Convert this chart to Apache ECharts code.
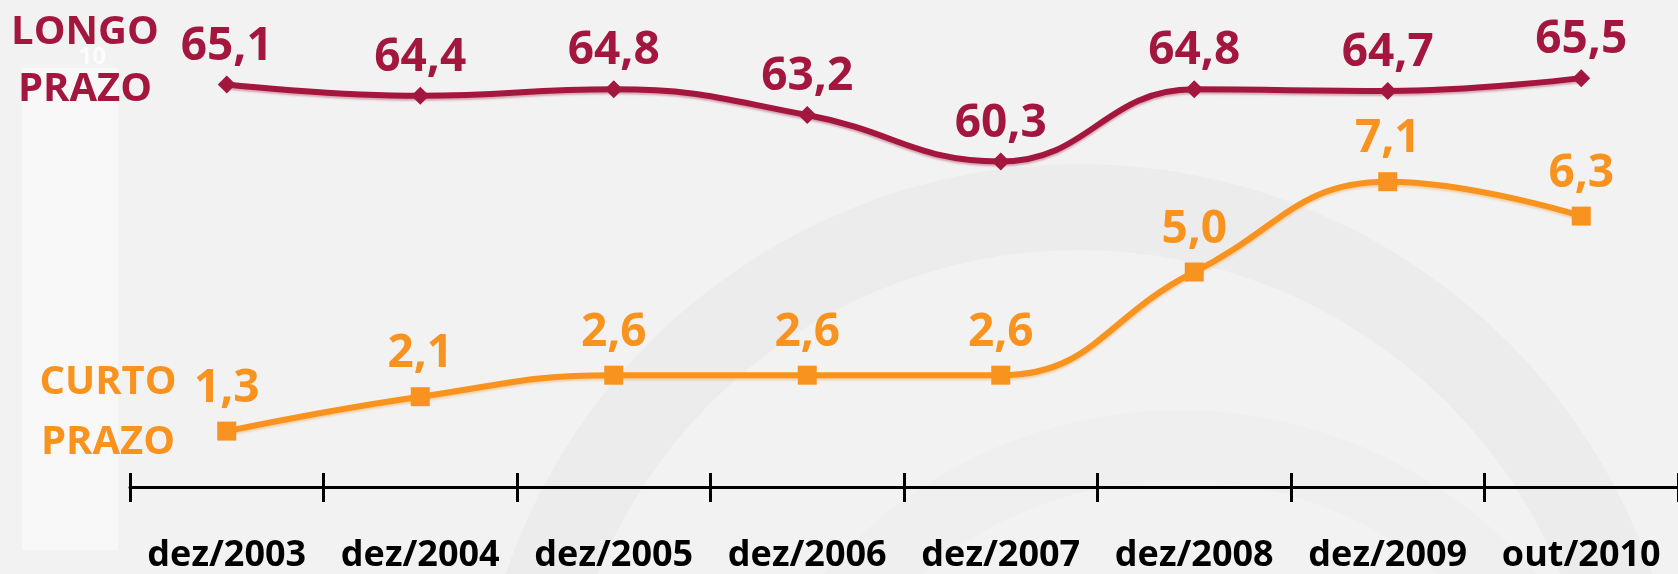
<!DOCTYPE html>
<html>
<head>
<meta charset="utf-8">
<script src="https://cdn.jsdelivr.net/npm/echarts@6/dist/echarts.min.js"></script>
<style>
  html, body { margin: 0; padding: 0; background: #f1f1f1; }
  #chart { width: 1678px; height: 574px; }
</style>
</head>
<body>
<div id="chart"></div>
<script>
  var categories = ['dez/2003', 'dez/2004', 'dez/2005', 'dez/2006', 'dez/2007', 'dez/2008', 'dez/2009', 'out/2010'];
  var longoPrazo = [65.1, 64.4, 64.8, 63.2, 60.3, 64.8, 64.7, 65.5];
  var curtoPrazo = [1.3, 2.1, 2.6, 2.6, 2.6, 5.0, 7.1, 6.3];

  var longoColor = '#a3173e';
  var curtoColor = '#f7931e';
  var font = "'Open Sans', 'DejaVu Sans', sans-serif";

  function comma(p) {
    return p.value.toFixed(1).replace('.', ',');
  }

  var myChart = echarts.init(document.getElementById('chart'));

  myChart.setOption({
    backgroundColor: '#f2f2f2',
    animation: false,
    grid: { left: 130, top: 14, width: 1556, height: 473 },
    graphic: [
      // faint watermark arcs in the background
      { type: 'ring', z: -20, silent: true, shape: { cx: 1079, cy: 770, r: 606, r0: 520 }, style: { fill: '#ececec' } },
      { type: 'ring', z: -20, silent: true, shape: { cx: 1180, cy: 880, r: 470, r0: 400 }, style: { fill: '#efefef' } },
      // lighter panel behind the left labels
      { type: 'rect', z: -10, shape: { x: 22, y: 68, width: 96, height: 482 }, style: { fill: '#f8f8f8' } },
      {
        type: 'text', x: 85, y: 4,
        style: { text: 'LONGO\nPRAZO', fill: longoColor, font: 'bold 40px ' + font, align: 'center', verticalAlign: 'top', lineHeight: 57 }
      },
      {
        type: 'text', x: 108, y: 353,
        style: { text: 'CURTO\nPRAZO', fill: curtoColor, font: 'bold 40px ' + font, align: 'center', verticalAlign: 'top', lineHeight: 60 }
      }
    ],
    xAxis: [{
      type: 'category',
      data: categories,
      axisLine: { show: true, lineStyle: { color: '#000', width: 3 } },
      axisTick: { show: true, interval: 0, length: 15, lineStyle: { color: '#000', width: 3 } },
      axisLabel: { interval: 0, color: '#000', fontFamily: font, fontWeight: 'bold', fontSize: 36, margin: 51 }
    }, {
      type: 'category',
      data: categories,
      position: 'bottom',
      axisLine: { show: false },
      axisTick: { show: true, interval: 0, inside: true, length: 14, lineStyle: { color: '#000', width: 3 } },
      axisLabel: { show: false }
    }],
    yAxis: [{
      type: 'value',
      min: 0, max: 11, interval: 10,
      splitLine: { show: false },
      axisLine: { show: false },
      axisTick: { show: false },
      axisLabel: { showMinLabel: false, showMaxLabel: false, color: '#fcfcfc', fontFamily: font, fontWeight: 'bold', fontSize: 24, margin: 24 }
    }, {
      type: 'value',
      min: 40, max: 69.5,
      position: 'right',
      show: false,
      splitLine: { show: false }
    }],
    series: [{
      name: 'LONGO PRAZO',
      type: 'line',
      yAxisIndex: 1,
      data: longoPrazo,
      smooth: 0.45,
      clip: false,
      symbol: 'diamond',
      symbolSize: 18,
      lineStyle: { color: longoColor, width: 6, shadowColor: 'rgba(163,23,62,0.35)', shadowOffsetY: 2, shadowBlur: 2 },
      itemStyle: { color: longoColor },
      label: { show: true, position: 'top', distance: 6, color: longoColor, fontFamily: font, fontWeight: 'bold', fontSize: 46, formatter: comma }
    }, {
      name: 'CURTO PRAZO',
      type: 'line',
      yAxisIndex: 0,
      data: curtoPrazo,
      smooth: 0.45,
      clip: false,
      symbol: 'rect',
      symbolSize: 19,
      lineStyle: { color: curtoColor, width: 6, shadowColor: 'rgba(247,147,30,0.35)', shadowOffsetY: 2, shadowBlur: 2 },
      itemStyle: { color: curtoColor },
      label: { show: true, position: 'top', distance: 10, color: curtoColor, fontFamily: font, fontWeight: 'bold', fontSize: 46, formatter: comma }
    }]
  });
</script>
</body>
</html>
